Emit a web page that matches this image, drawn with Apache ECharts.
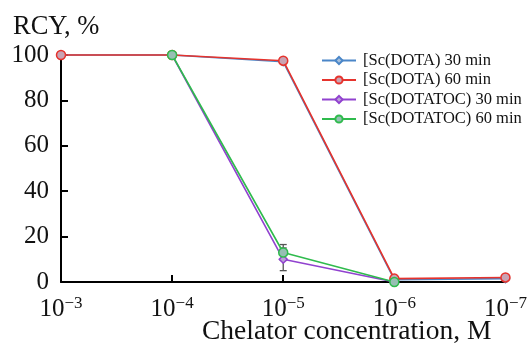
<!DOCTYPE html>
<html><head><meta charset="utf-8">
<script src="https://cdn.jsdelivr.net/npm/echarts@6/dist/echarts.min.js"></script>
<style>html,body{margin:0;padding:0;background:#fff}#c{width:530px;height:343px}</style>
</head><body><div id="c"></div>
<script>
// log10 exponents (negative) of chelator concentration
var xExp = [3, 4, 5, 6, 7];
var yTicks = [0, 20, 40, 60, 80, 100];
var names = ['[Sc(DOTA) 30 min', '[Sc(DOTA) 60 min', '[Sc(DOTATOC) 30 min', '[Sc(DOTATOC) 60 min'];
var dota30 = [100, 100, 97, 1, 1.5];
var dota60 = [100, 100, 97.5, 1.5, 2];
var dotatoc30 = [null, 100, 10, 0, null];
var dotatoc60 = [null, 100, 13, 0, null];
var errDotatoc30 = [null, null, 5, null, null];
var errDotatoc60 = [null, null, 3.5, null, null];

var SERIF = '"Liberation Serif","DejaVu Serif",serif';
function pts(v){ var r=[]; for(var i=0;i<xExp.length;i++){ if(v[i]!==null) r.push([xExp[i], v[i]]);} return r; }
function errPts(v,e){ var r=[]; for(var i=0;i<xExp.length;i++){ if(e[i]!==null) r.push([xExp[i], v[i]-e[i], v[i]+e[i]]);} return r; }

var styles = [
  {color:'#4a86c8', fill:'#a9c0da', symbol:'diamond', size:8},
  {color:'#e6332d', fill:'#c9a3b3', symbol:'circle', size:9},
  {color:'#9142cf', fill:'#b9a2d6', symbol:'diamond', size:8},
  {color:'#2fbb4d', fill:'#96bfb3', symbol:'circle', size:9}
];
var vals = [dota30, dota60, dotatoc30, dotatoc60];
var series = [];
function errSeries(v, e){
  return {type:'custom', silent:true, z:1, data: errPts(v,e),
    renderItem: function(params, api){
      var x = api.value(0), lo = api.coord([x, api.value(1)]), hi = api.coord([x, api.value(2)]);
      var w = 3.5;
      var st = {stroke:'#555', lineWidth:1.3};
      return {type:'group', children:[
        {type:'line', shape:{x1:lo[0],y1:lo[1],x2:hi[0],y2:hi[1]}, style:st},
        {type:'line', shape:{x1:lo[0]-w,y1:lo[1],x2:lo[0]+w,y2:lo[1]}, style:st},
        {type:'line', shape:{x1:hi[0]-w,y1:hi[1],x2:hi[0]+w,y2:hi[1]}, style:st}
      ]};
    }};
}
series.push(errSeries(dotatoc30, errDotatoc30));
series.push(errSeries(dotatoc60, errDotatoc60));
for (var i=0;i<4;i++){
  series.push({type:'line', name:names[i], data:pts(vals[i]), symbol:styles[i].symbol, symbolSize:styles[i].size,
    z: 2+i, clip:false,
    lineStyle:{color:styles[i].color, width:1.6},
    itemStyle:{color:styles[i].fill, borderColor:styles[i].color, borderWidth:1.5}});
}

var chart = echarts.init(document.getElementById('c'));
chart.setOption({
  animation:false,
  grid:{left:61, right:20, top:55, bottom:61},
  legend:{orient:'vertical', left:321, top:52, itemWidth:34, itemHeight:9, itemGap:2.5, padding:0,
    data:names, textStyle:{fontFamily:SERIF, fontSize:16.5, color:'#111', padding:[0,0,0,2]}},
  xAxis:{type:'value', min:3, max:7, interval:1,
    axisLine:{lineStyle:{color:'#000', width:2}},
    axisTick:{inside:true, length:7, lineStyle:{color:'#000', width:2}},
    splitLine:{show:false},
    axisLabel:{margin:13, formatter:function(v){return '{b|10}{s|−'+v+'}';},
      rich:{b:{fontFamily:SERIF, fontSize:25, color:'#111', lineHeight:27, verticalAlign:'bottom'},
            s:{fontFamily:SERIF, fontSize:17, color:'#111', verticalAlign:'top', lineHeight:17}}}},
  yAxis:{type:'value', min:0, max:100, interval:20,
    axisLine:{show:true, lineStyle:{color:'#000', width:2}},
    axisTick:{show:true, inside:true, length:7, lineStyle:{color:'#000', width:2}},
    splitLine:{show:false},
    axisLabel:{margin:12, fontFamily:SERIF, fontSize:25, color:'#111'}},
  graphic:[
    {type:'text', left:13, top:14, style:{text:'RCY, %', font:'26.5px '+SERIF, fill:'#111'}},
    {type:'text', left:202, top:318, style:{text:'Chelator concentration, M', font:'27.5px '+SERIF, fill:'#111'}}
  ],
  series:series
});
</script></body></html>
